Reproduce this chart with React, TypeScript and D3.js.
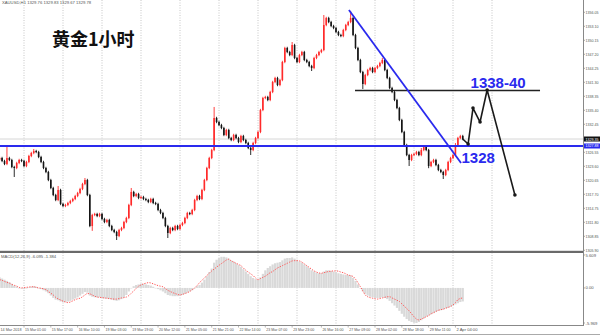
import React from 'react';
import * as d3 from 'd3';

const W = 600;
const H = 336;

// ---- price data (H1 candles, close per bar; open = previous close) ----
const firstOpen = 1325.0;
const closes = [
  1325.35, 1324.72, 1324.09, 1325.35, 1324.93, 1323.45, 1323.24, 1324.30, 1324.93, 1324.72,
  1323.66, 1324.51, 1325.77, 1326.40, 1326.82, 1326.61, 1325.56, 1324.51, 1323.24, 1322.40,
  1320.71, 1319.03, 1317.55, 1316.50, 1318.61, 1315.66, 1315.24, 1315.45, 1315.87, 1316.29,
  1316.71, 1317.34, 1317.97, 1318.82, 1319.87, 1320.71, 1317.55, 1311.02, 1313.34, 1313.55,
  1313.13, 1313.55, 1312.50, 1311.86, 1312.29, 1311.02, 1310.18, 1309.76, 1308.91, 1310.18,
  1310.60, 1311.86, 1312.71, 1315.45, 1318.19, 1317.34, 1317.76, 1316.92, 1317.13, 1316.71,
  1316.50, 1316.08, 1316.71, 1315.87, 1315.66, 1314.39, 1313.76, 1312.71, 1311.02, 1309.55,
  1310.60, 1310.18, 1311.02, 1310.39, 1311.23, 1311.65, 1312.71, 1313.76, 1313.55, 1314.39,
  1316.50, 1317.34, 1316.71, 1318.61, 1320.71, 1323.24, 1325.35, 1327.03, 1333.78, 1332.93,
  1332.30, 1331.67, 1330.20, 1331.25, 1329.56, 1329.14, 1330.20, 1329.56, 1328.72, 1329.98,
  1329.14, 1328.51, 1327.46, 1327.03, 1328.51, 1329.56, 1330.83, 1335.46, 1337.99, 1338.20,
  1337.57, 1339.26, 1341.36, 1342.21, 1340.73, 1341.78, 1345.58, 1348.53, 1347.68, 1347.05,
  1349.16, 1346.42, 1345.58, 1347.05, 1347.68, 1346.00, 1345.58, 1344.73, 1344.31, 1346.42,
  1347.05, 1347.68, 1348.10, 1353.37, 1354.85, 1354.00, 1353.16, 1352.74, 1351.90, 1351.27,
  1351.05, 1352.32, 1353.37, 1354.00, 1354.85, 1351.27, 1348.53, 1346.00, 1343.47, 1340.94,
  1342.84, 1343.89, 1344.31, 1343.47, 1344.31, 1344.73, 1345.37, 1346.00, 1343.89, 1342.21,
  1340.10, 1339.26, 1337.57, 1335.88, 1333.36, 1330.83, 1328.09, 1325.98, 1324.93, 1325.98,
  1326.19, 1326.61, 1325.98, 1327.03, 1327.67, 1327.03, 1323.66, 1324.51, 1324.93, 1323.87,
  1322.82, 1322.40, 1321.77, 1322.82, 1324.51, 1325.35, 1325.98, 1328.09, 1329.56, 1329.98, 1329.35,
];
const wickPad = 0.25;
const highOverrides: [number, number][] = [
  [3, 1328.09], [14, 1327.25], [24, 1319.45], [35, 1321.13], [54, 1319.03], [88, 1336.1],
  [120, 1349.79], [133, 1355.48], [144, 1356.32], [157, 1346.42], [173, 1327.46], [187, 1328.5],
];
const lowOverrides: [number, number][] = [
  [6, 1321.35], [38, 1310.0], [48, 1308.07], [69, 1308.49], [103, 1325.98], [128, 1343.68],
  [149, 1339.89], [168, 1323.66], [176, 1323.2], [182, 1320.92],
];

// ---- MACD(12,26,9) values ----
const macdMain = [
  1.8, 1.6, 1.4, 1.2, 1.0, 0.7, 0.4, 0.2, 0.0, -0.1,
  -0.2, -0.1, 0.1, 0.2, 0.3, 0.2, 0.0, -0.2, -0.4, -0.6,
  -0.9, -1.3, -1.7, -2.0, -2.1, -2.3, -2.4, -2.4, -2.3, -2.2,
  -2.0, -1.8, -1.6, -1.3, -1.0, -0.7, -0.8, -1.3, -1.5, -1.6,
  -1.6, -1.6, -1.7, -1.8, -1.8, -1.9, -2.0, -2.1, -2.2, -2.1,
  -1.9, -1.6, -1.2, -0.6, 0.0, 0.3, 0.5, 0.6, 0.7, 0.7,
  0.6, 0.5, 0.4, 0.2, 0.0, -0.2, -0.4, -0.6, -0.9, -1.2,
  -1.3, -1.4, -1.4, -1.4, -1.3, -1.2, -1.0, -0.8, -0.6, -0.4,
  0.0, 0.3, 0.5, 0.9, 1.4, 2.0, 2.7, 3.3, 4.3, 4.8,
  5.1, 5.3, 5.3, 5.2, 5.0, 4.7, 4.5, 4.2, 3.9, 3.6,
  3.2, 2.8, 2.4, 2.0, 1.7, 1.5, 1.4, 1.8, 2.4, 3.0,
  3.4, 3.7, 4.0, 4.2, 4.3, 4.4, 4.7, 5.0, 5.1, 5.1,
  5.2, 5.0, 4.8, 4.5, 4.3, 4.0, 3.7, 3.4, 3.0, 2.8,
  2.6, 2.5, 2.5, 2.8, 3.0, 3.0, 2.9, 2.8, 2.7, 2.5,
  2.4, 2.3, 2.2, 2.2, 2.1, 1.7, 1.2, 0.6, 0.0, -0.6,
  -1.0, -1.3, -1.5, -1.6, -1.7, -1.7, -1.7, -1.6, -1.7, -1.9,
  -2.2, -2.6, -3.0, -3.4, -3.9, -4.4, -4.9, -5.3, -5.6, -5.8,
  -5.9, -5.97, -5.8, -5.5, -5.2, -4.9, -4.7, -4.5, -4.3, -4.1,
  -3.9, -3.8, -3.7, -3.5, -3.4, -3.2, -3.0, -2.8, -2.6, -2.4, -2.3,
];
const macdSignal = [
  1.4, 1.3, 1.1, 0.95, 0.8, 0.6, 0.45, 0.3, 0.1, 0.0,
  0.05, 0.1, 0.15, 0.2, 0.2, 0.1, 0.0, -0.05, -0.15, -0.3,
  -0.6, -0.9, -1.2, -1.6, -1.85, -2.05, -2.25, -2.4, -2.5, -2.4,
  -2.2, -2.0, -1.85, -1.75, -1.5, -1.2, -0.95, -1.0, -1.2, -1.4,
  -1.55, -1.6, -1.65, -1.7, -1.75, -1.8, -1.85, -1.9, -1.9, -1.8,
  -1.7, -1.65, -1.55, -1.3, -0.9, -0.5, -0.1, 0.3, 0.5, 0.7,
  0.8, 0.9, 0.85, 0.7, 0.55, 0.4, 0.3, 0.2, -0.1, -0.4,
  -0.6, -0.8, -0.95, -1.1, -1.2, -1.1, -0.95, -0.8, -0.6, -0.3,
  0.0, 0.4, 0.9, 1.3, 1.7, 2.1, 2.5, 2.9, 3.2, 3.55,
  3.85, 4.15, 4.45, 4.75, 4.9, 4.6, 4.4, 4.2, 4.0, 3.8,
  3.4, 3.0, 2.7, 2.4, 2.1, 1.7, 1.4, 1.6, 1.8, 2.0,
  2.3, 2.6, 2.8, 3.1, 3.4, 3.6, 3.8, 4.0, 4.2, 4.4,
  4.6, 4.65, 4.65, 4.6, 4.4, 4.1, 3.8, 3.5, 3.2, 2.9,
  2.7, 2.55, 2.5, 2.6, 2.7, 2.8, 2.85, 2.9, 2.9, 2.85,
  2.7, 2.6, 2.4, 2.2, 2.1, 1.95, 1.5, 0.9, 0.2, -0.5,
  -1.2, -1.5, -1.65, -1.75, -1.85, -1.9, -1.8, -1.7, -1.6, -1.5,
  -1.5, -1.7, -1.9, -2.1, -2.3, -2.7, -3.1, -3.5, -3.9, -4.4,
  -4.9, -5.3, -5.45, -5.3, -5.1, -4.9, -4.7, -4.4, -4.2, -4.0,
  -3.8, -3.7, -3.6, -3.45, -3.3, -3.15, -2.9, -2.5, -2.0, -1.8, -1.7,
];

// ---- axes ----
const priceTicks = [
  1305.9, 1308.85, 1311.8, 1314.75, 1317.7, 1320.65, 1323.6, 1326.55, 1329.5,
  1332.45, 1335.4, 1338.35, 1341.3, 1344.25, 1347.2, 1350.15, 1353.1, 1356.05,
];
const macdTicks = [5.609, 0, -5.969];
const macdTickLabels = ['5.609', '0.00', '-5.969'];
const timeLabels = [
  '14 Mar 2018', '15 Mar 01:00', '15 Mar 17:00', '16 Mar 10:00', '19 Mar 03:00', '19 Mar 19:00',
  '20 Mar 12:00', '21 Mar 05:00', '21 Mar 21:00', '22 Mar 14:00', '23 Mar 07:00', '23 Mar 23:00',
  '26 Mar 16:00', '27 Mar 09:00', '28 Mar 02:00', '28 Mar 18:00', '29 Mar 11:00', '2 Apr 04:00',
];
const timeLabelBars = [-0.7, 10, 21, 32, 43, 54, 65, 76, 87, 98, 109, 120, 132, 143, 154, 165, 176, 187];
const gridBars = [10, 26, 42, 58, 74, 90, 106, 122, 138, 154, 170, 186, 202];

// ---- drawn analysis ----
const title = '黄金1小时';
const headerText = 'XAUUSD,H1  1329.76 1329.83 1329.67 1329.78';
const macdHeader = 'MACD(12,26,9) -6.095 -1.384';
const supportLevel = 1327.88;
const resistanceLevel = 1339.57;
const resistanceBars = [145.8, 221.7];
const trendBars = [143.3, 189.3];
const trendPrices = [1356.53, 1324.3];
const forecastBars = [190, 192.2, 194.2, 197.1, 200, 211.4];
const forecastPrices = [1329.35, 1328.3, 1335.88, 1332.93, 1339.68, 1317.55];
const resistanceLabel = '1338-40';
const supportLabel = '1328';

const BLUE = '#2a2aee';
const SMALL_FONT = '"Liberation Sans", Arial, sans-serif';

export default function App() {
  const plotRight = 583;
  const x = d3.scaleLinear().domain([0, 190]).range([-0.375, 462.75]);
  const y = d3.scaleLinear().domain([1305.9, 1356.05]).range([250.3, 12.3]);
  const m = d3.scaleLinear().domain([-5.969, 5.609]).range([323, 255]);

  const hiMap = new Map(highOverrides);
  const loMap = new Map(lowOverrides);
  const candles = closes.map((c, i) => {
    const o = i === 0 ? firstOpen : closes[i - 1];
    const hi = hiMap.has(i) ? (hiMap.get(i) as number) : Math.max(o, c) + wickPad;
    const lo = loMap.has(i) ? (loMap.get(i) as number) : Math.min(o, c) - wickPad;
    return { i, o, c, hi, lo };
  });

  const signalPath = d3
    .line<number>()
    .x((_, i) => x(i))
    .y((v) => m(v))
    .curve(d3.curveMonotoneX)(macdSignal) as string;

  const forecastPath = d3
    .line<number>()
    .x((_, k) => x(forecastBars[k]))
    .y((v) => y(v))(forecastPrices) as string;

  const lastClose = closes[closes.length - 1];
  const peakX = x(forecastBars[4]);
  const peakY = y(forecastPrices[4]);
  const axisFont = 4.2;

  return (
    <svg
      width={W}
      height={H}
      viewBox={`0 0 ${W} ${H}`}
      style={{ position: 'absolute', left: 0, top: 0, background: '#fff' }}
    >
      <defs>
        <clipPath id="mainClip">
          <rect x={0} y={0} width={plotRight} height={251} />
        </clipPath>
        <clipPath id="macdClip">
          <rect x={0} y={253} width={plotRight} height={72} />
        </clipPath>
      </defs>
      <rect x={0} y={0} width={W} height={H} fill="#fff" />

      {/* vertical grid */}
      {gridBars.map((b) => (
        <line
          key={'g' + b}
          x1={x(b)}
          x2={x(b)}
          y1={0}
          y2={325}
          stroke="#b8b8b8"
          strokeWidth={0.8}
          strokeDasharray="1 1.5"
        />
      ))}

      {/* bid line */}
      <line x1={0} x2={plotRight} y1={y(lastClose)} y2={y(lastClose)} stroke="#d6d6d6" strokeWidth={1} />

      {/* candles */}
      <g clipPath="url(#mainClip)">
        {candles.map((d) => {
          const up = d.c >= d.o;
          const col = up ? '#ff2a2a' : '#151515';
          const top = y(Math.max(d.o, d.c));
          const h = Math.max(0.9, Math.abs(y(d.o) - y(d.c)));
          return (
            <g key={'c' + d.i}>
              <line x1={x(d.i)} x2={x(d.i)} y1={y(d.hi)} y2={y(d.lo)} stroke={col} strokeWidth={0.9} />
              <rect x={x(d.i) - 0.8} y={top} width={1.6} height={h} fill={col} />
            </g>
          );
        })}
      </g>

      {/* support (blue horizontal) */}
      <line x1={0} x2={plotRight} y1={y(supportLevel)} y2={y(supportLevel)} stroke={BLUE} strokeWidth={2} />
      {/* resistance (black horizontal) */}
      <line
        x1={x(resistanceBars[0])}
        x2={x(resistanceBars[1])}
        y1={y(resistanceLevel)}
        y2={y(resistanceLevel)}
        stroke="#222"
        strokeWidth={1.6}
      />
      {/* trend line */}
      <line
        x1={x(trendBars[0])}
        y1={y(trendPrices[0])}
        x2={x(trendBars[1])}
        y2={y(trendPrices[1])}
        stroke={BLUE}
        strokeWidth={1.8}
      />
      {/* forecast path */}
      <path d={forecastPath} fill="none" stroke="#1a1a1a" strokeWidth={1.6} strokeLinejoin="round" />
      {forecastPrices.slice(1).map((p, k) => (
        <circle key={'f' + k} cx={x(forecastBars[k + 1])} cy={y(p)} r={1.8} fill="#1a1a1a" />
      ))}

      {/* annotation texts */}
      <text
        x={peakX + 11}
        y={peakY - 2}
        textAnchor="middle"
        fontFamily={SMALL_FONT}
        fontWeight="bold"
        fontSize={15}
        fill={BLUE}
      >
        {resistanceLabel}
      </text>
      <text
        x={x(trendBars[1]) + 0.5}
        y={y(supportLevel) + 17}
        fontFamily={SMALL_FONT}
        fontWeight="bold"
        fontSize={15}
        fill={BLUE}
      >
        {supportLabel}
      </text>
      <text
        x={52}
        y={46}
        fontFamily='"Noto Sans CJK SC", "Noto Sans", sans-serif'
        fontWeight="bold"
        fontSize={18}
        fill="#111"
      >
        {title}
      </text>
      <text x={2} y={4} fontFamily={SMALL_FONT} fontSize={axisFont} fill="#555">
        {headerText}
      </text>

      {/* MACD panel */}
      <g clipPath="url(#macdClip)">
        {macdMain.map((v, i) => (
          <rect
            key={'h' + i}
            x={x(i) - 1.1}
            y={Math.min(m(v), m(0))}
            width={2.2}
            height={Math.max(0.5, Math.abs(m(v) - m(0)))}
            fill="#d9d9d9"
          />
        ))}
        <path d={signalPath} fill="none" stroke="#ff5a5a" strokeWidth={1} strokeDasharray="1.3 1.3" />
      </g>
      <text x={1} y={257.5} fontFamily={SMALL_FONT} fontSize={axisFont} fill="#555">
        {macdHeader}
      </text>

      {/* panel borders */}
      <rect x={0} y={250.8} width={plotRight} height={2.2} fill="#6a6a6a" />
      <line x1={0} x2={plotRight} y1={325.5} y2={325.5} stroke="#888" strokeWidth={1} />
      <line x1={plotRight + 0.5} x2={plotRight + 0.5} y1={0} y2={326} stroke="#888" strokeWidth={1} />
      <line x1={0} x2={W} y1={334.5} y2={334.5} stroke="#aaa" strokeWidth={1} />

      {/* price axis */}
      {priceTicks.map((t) => (
        <g key={'p' + t}>
          <line x1={plotRight} x2={plotRight + 2} y1={y(t)} y2={y(t)} stroke="#888" strokeWidth={0.7} />
          <text
            x={plotRight + 2.5}
            y={y(t) + 1.5}
            fontFamily={SMALL_FONT}
            fontSize={axisFont}
            fill="#555"
            textLength={13}
            lengthAdjust="spacingAndGlyphs"
          >
            {t.toFixed(2)}
          </text>
        </g>
      ))}
      <rect x={plotRight + 1} y={y(lastClose) - 2.5} width={16} height={5} fill="#111" />
      <text
        x={plotRight + 2.5}
        y={y(lastClose) + 1.5}
        fontFamily={SMALL_FONT}
        fontSize={axisFont}
        fill="#fff"
        textLength={13}
        lengthAdjust="spacingAndGlyphs"
      >
        {lastClose.toFixed(2)}
      </text>
      <rect x={plotRight + 1} y={y(supportLevel) - 2.5} width={16} height={5} fill={BLUE} />
      <text
        x={plotRight + 2.5}
        y={y(supportLevel) + 1.5}
        fontFamily={SMALL_FONT}
        fontSize={axisFont}
        fill="#fff"
        textLength={13}
        lengthAdjust="spacingAndGlyphs"
      >
        {supportLevel.toFixed(2)}
      </text>

      {/* MACD axis */}
      {macdTicks.map((t, k) => (
        <g key={'m' + k}>
          <line x1={plotRight} x2={plotRight + 2} y1={m(t)} y2={m(t)} stroke="#888" strokeWidth={0.7} />
          <text x={plotRight + 2.5} y={m(t) + 1.5} fontFamily={SMALL_FONT} fontSize={axisFont} fill="#555">
            {macdTickLabels[k]}
          </text>
        </g>
      ))}

      {/* time axis */}
      {timeLabels.map((lab, k) => (
        <g key={'t' + k}>
          <line
            x1={x(timeLabelBars[k])}
            x2={x(timeLabelBars[k])}
            y1={325}
            y2={327.5}
            stroke="#888"
            strokeWidth={0.6}
          />
          <text
            x={Math.max(0.5, x(timeLabelBars[k]) + 1)}
            y={331}
            fontFamily={SMALL_FONT}
            fontSize={axisFont}
            fill="#555"
            textLength={21}
            lengthAdjust="spacingAndGlyphs"
          >
            {lab}
          </text>
        </g>
      ))}
    </svg>
  );
}
